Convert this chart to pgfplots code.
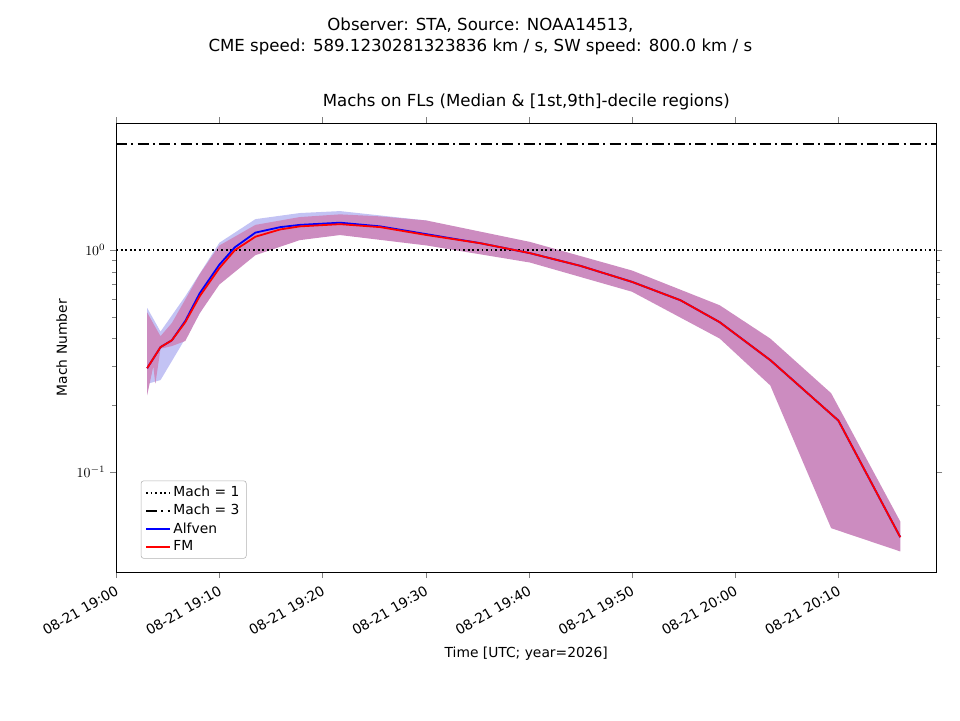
\documentclass[border=0pt]{standalone}
\usepackage{pgfplots}
\pgfplotsset{compat=1.18}
\usepgfplotslibrary{fillbetween}
\usepackage{fontspec}
\setmainfont{DejaVu Sans}
\definecolor{band}{RGB}{204,140,192}
\definecolor{bband}{RGB}{170,170,240}
\begin{document}
\begin{tikzpicture}
\path (-2.95,-3.76) rectangle (21.43,14.53);
\node[font=\fontsize{12}{15}\selectfont,align=center] at (9.25,13.6) {Observer: STA, Source: NOAA14513,\\CME speed: 589.1230281323836 km / s, SW speed: 800.0 km / s};
\begin{axis}[
  width=20.83cm,height=11.4cm,scale only axis,
  at={(0,0)},
  ymode=log, xmin=0, xmax=79.5, ymin=0.0355, ymax=3.73,
  xtick={0,10,20,30,40,50,60,70},
  xticklabels={08-21 19:00,08-21 19:10,08-21 19:20,08-21 19:30,08-21 19:40,08-21 19:50,08-21 20:00,08-21 20:10},
  xticklabel style={rotate=30,anchor=north east,font=\fontsize{10}{12}\selectfont},
  yticklabel style={font=\fontsize{10}{12}\selectfont},
  ytick={0.1,1},
  ylabel={Mach Number}, xlabel={Time [UTC; year=2026]},
  label style={font=\fontsize{10}{12}\selectfont},
  title={Machs on FLs (Median \& [1st,9th]-decile regions)},
  title style={font=\fontsize{12}{15}\selectfont},
  legend pos=south west, legend style={font=\fontsize{10}{12}\selectfont,cells={anchor=west},draw=gray!60,rounded corners=2pt},
  tick align=outside, axis line style={black},
]
\addplot[name path=bu, draw=none, forget plot] coordinates {(3,0.55)(4.3,0.43)(6.7,0.62)(10,1.08)(13.5,1.38)(17.8,1.47)(21.7,1.5)(30.1,1.36)};
\addplot[name path=bl, draw=none, forget plot] coordinates {(3,0.25)(4.3,0.26)(6.7,0.40)(10,0.74)(13.5,1.0)(17.8,1.15)(21.7,1.2)(30.1,1.06)};
\addplot[bband,opacity=0.7,forget plot] fill between[of=bu and bl];
\addplot[name path=u, draw=none, forget plot] coordinates {(3,0.525)(3.8,0.45)(4.3,0.41)(5.4,0.47)(6.7,0.6)(8.1,0.78)(10,1.05)(13.5,1.3)(17.8,1.41)(21.7,1.45)(25.6,1.42)(30.1,1.36)(40.1,1.09)(50,0.81)(58.5,0.565)(63.4,0.40)(69.3,0.227)(76,0.06)};
\addplot[name path=l, draw=none, forget plot] coordinates {(3,0.222)(3.6,0.3)(3.8,0.25)(4.3,0.36)(5.4,0.37)(6.7,0.39)(8.1,0.52)(10,0.70)(13.5,0.95)(17.8,1.11)(21.7,1.17)(30.1,1.05)(40.1,0.88)(50,0.65)(58.5,0.40)(63.4,0.246)(69.3,0.056)(76,0.044)};
\addplot[band,forget plot] fill between[of=u and l];
\addplot[black,dotted,line width=1.3pt] coordinates {(0,1)(79.5,1)};
\addlegendentry{Mach = 1}
\addplot[black,dash pattern=on 8pt off 3pt on 1.5pt off 3pt,line width=1.3pt] coordinates {(0,3)(79.5,3)};
\addlegendentry{Mach = 3}
\addplot[blue,line width=1.3pt] coordinates {(3,0.294)(4.3,0.366)(5.4,0.393)(6.7,0.48)(8.1,0.64)(10,0.86)(11.5,1.03)(13.5,1.2)(15.9,1.27)(17.8,1.3)(21.7,1.33)(25.6,1.28)(30.1,1.18)(35.3,1.075)(40.1,0.97)(45,0.85)(50,0.72)(54.7,0.595)(58.5,0.474)(63.4,0.32)(70,0.171)(76,0.051)};
\addlegendentry{Alfven}
\addplot[red,line width=1.3pt] coordinates {(3,0.294)(4.3,0.366)(5.4,0.393)(6.7,0.474)(8.1,0.621)(10,0.83)(11.5,1.0)(13.5,1.15)(15.9,1.24)(17.8,1.28)(21.7,1.31)(25.6,1.27)(30.1,1.17)(35.3,1.075)(40.1,0.97)(45,0.85)(50,0.72)(54.7,0.595)(58.5,0.474)(63.4,0.32)(70,0.171)(76,0.051)};
\addlegendentry{FM}
\end{axis}
\end{tikzpicture}
\end{document}
